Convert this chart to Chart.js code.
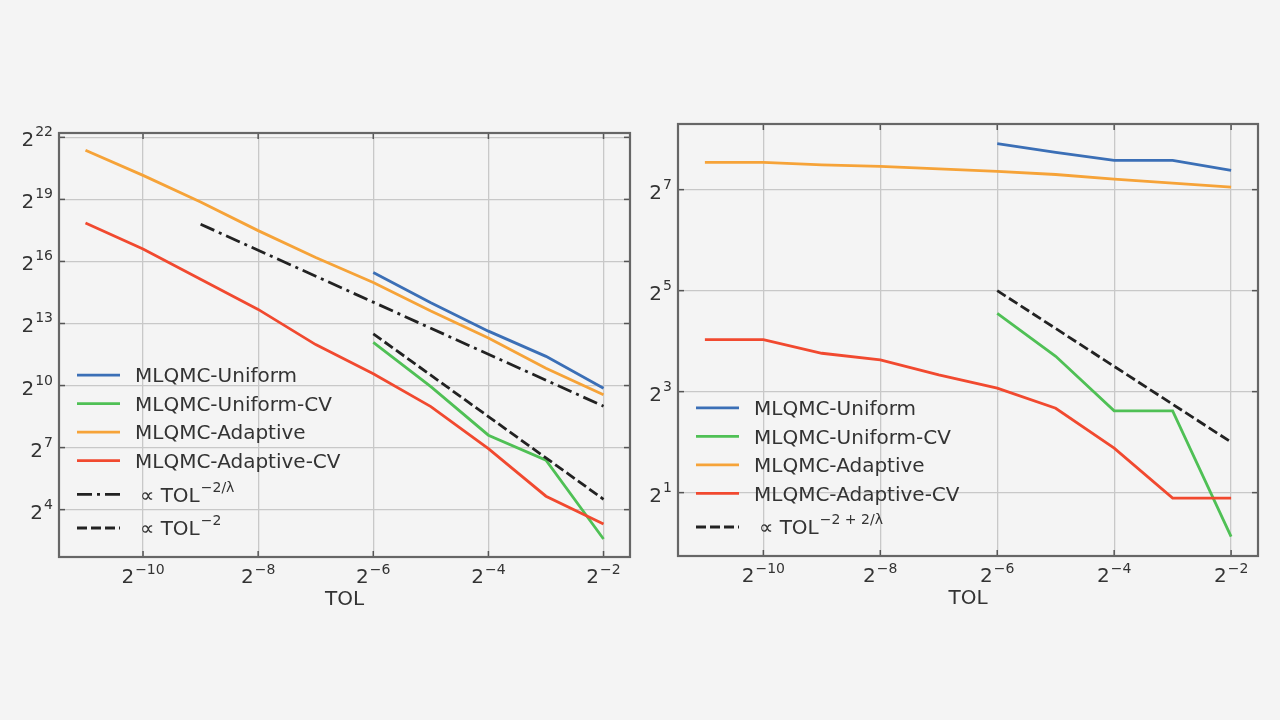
<!DOCTYPE html>
<html lang="en">
<head>
  <meta charset="UTF-8" />
  <title>MLQMC - cost vs TOL</title>
  <script src="https://cdn.jsdelivr.net/npm/chart.js"></script>
  <style>
    html, body { margin: 0; padding: 0; background: #f4f4f4; }
    body { width: 1280px; height: 720px; position: relative; overflow: hidden; }
    canvas { position: absolute; top: 100px; }
    #leftChart { left: 0; }
    #rightChart { left: 640px; }
  </style>
</head>
<body>
  <canvas id="leftChart" width="640" height="520"></canvas>
  <canvas id="rightChart" width="640" height="520"></canvas>

  <script>
    // all values are base-2 exponents
    const tolExp = [-11, -10, -9, -8, -7, -6, -5, -4, -3, -2];
    const tolExpUniform = [-6, -5, -4, -3, -2];
    const xTickExp = [-10, -8, -6, -4, -2];

    // left panel
    const leftYTickExp = [4, 7, 10, 13, 16, 19, 22];
    const leftUniform = [15.46, 14.0, 12.63, 11.41, 9.87];
    const leftUniformCV = [12.09, 9.95, 7.6, 6.39, 2.58];
    const leftAdaptive = [21.38, 20.16, 18.87, 17.49, 16.19, 14.98, 13.6, 12.3, 10.84, 9.55];
    const leftAdaptiveCV = [17.86, 16.6, 15.14, 13.68, 11.98, 10.57, 8.98, 6.95, 4.65, 3.31];
    const leftRefLambdaTol = [-9, -2];
    const leftRefLambda = [17.8, 9.0];
    const leftRef2Tol = [-6, -2];
    const leftRef2 = [12.5, 4.5];

    // right panel
    const rightYTickExp = [1, 3, 5, 7];
    const rightUniform = [7.91, 7.74, 7.58, 7.58, 7.38];
    const rightUniformCV = [4.55, 3.70, 2.62, 2.62, 0.13];
    const rightAdaptive = [7.54, 7.54, 7.49, 7.46, 7.41, 7.36, 7.30, 7.21, 7.13, 7.05];
    const rightAdaptiveCV = [4.03, 4.03, 3.76, 3.63, 3.33, 3.07, 2.67, 1.88, 0.89, 0.89];
    const rightRefTol = [-6, -2];
    const rightRef = [5.0, 2.0];

    const COLORS = {
      uniform: '#3b6fb6',
      uniformCV: '#4fc055',
      adaptive: '#f6a338',
      adaptiveCV: '#f1492f',
      ref: '#222222'
    };
    const DASHDOT = [15, 5, 3, 5];
    const DASHED = [10, 4];
    const FONT = '"DejaVu Sans", sans-serif';

    function pts(xe, ye) {
      return xe.map((e, i) => ({ x: 2 ** e, y: 2 ** ye[i] }));
    }

    function series(xe, ye, color, dash) {
      return {
        data: pts(xe, ye),
        borderColor: color,
        borderWidth: 2.8,
        borderDash: dash || [],
        pointRadius: 0,
        fill: false,
        tension: 0
      };
    }

    function seg(ctx, x0, y0, x1, y1) {
      ctx.beginPath();
      ctx.moveTo(x0, y0);
      ctx.lineTo(x1, y1);
      ctx.stroke();
    }

    // base text with a raised exponent
    function powText(ctx, x, y, base, sup, align, baseSize, supSize, raise) {
      ctx.font = baseSize + 'px ' + FONT;
      const wb = ctx.measureText(base).width;
      ctx.font = supSize + 'px ' + FONT;
      const ws = ctx.measureText(sup).width;
      const total = wb + 1 + ws;
      let x0 = x;
      if (align === 'center') x0 = x - total / 2;
      else if (align === 'right') x0 = x - total;
      ctx.textAlign = 'left';
      ctx.textBaseline = 'alphabetic';
      ctx.font = baseSize + 'px ' + FONT;
      ctx.fillText(base, x0, y);
      ctx.font = supSize + 'px ' + FONT;
      ctx.fillText(sup, x0 + wb + 1, y - raise);
    }

    function decor(yTicks, legendItems) {
      return {
        id: 'decor',
        afterDraw(chart) {
          const ctx = chart.ctx;
          const a = chart.chartArea;
          const xs = chart.scales.x;
          const ys = chart.scales.y;
          ctx.save();
          ctx.setLineDash([]);

          // inward tick marks on all four sides
          ctx.strokeStyle = '#555';
          ctx.lineWidth = 1.5;
          xTickExp.forEach(e => {
            const px = xs.getPixelForValue(2 ** e);
            seg(ctx, px, a.bottom, px, a.bottom - 6);
            seg(ctx, px, a.top, px, a.top + 6);
          });
          yTicks.forEach(e => {
            const py = ys.getPixelForValue(2 ** e);
            seg(ctx, a.left, py, a.left + 6, py);
            seg(ctx, a.right, py, a.right - 6, py);
          });

          // frame
          ctx.strokeStyle = '#666';
          ctx.lineWidth = 2.2;
          ctx.strokeRect(a.left, a.top, a.right - a.left, a.bottom - a.top);

          // tick labels
          ctx.fillStyle = '#333';
          xTickExp.forEach(e => {
            powText(ctx, xs.getPixelForValue(2 ** e), a.bottom + 26, '2', '\u2212' + (-e), 'center', 20, 14, 9);
          });
          yTicks.forEach(e => {
            powText(ctx, a.left - 6, ys.getPixelForValue(2 ** e) + 9, '2', String(e), 'right', 20, 14, 10);
          });

          // axis title
          ctx.font = '20px ' + FONT;
          ctx.textAlign = 'center';
          ctx.fillText('TOL', (a.left + a.right) / 2, a.bottom + 48);

          // legend, stacked up from the lower left corner
          let y = a.bottom - 29;
          const rowY = [];
          for (let i = legendItems.length - 1; i >= 0; i--) {
            rowY[i] = y;
            y -= legendItems[i].sup ? 33.7 : 28.5;
          }
          legendItems.forEach((it, i) => {
            const ly = rowY[i];
            ctx.strokeStyle = it.color;
            ctx.lineWidth = 2.8;
            ctx.setLineDash(it.dash || []);
            seg(ctx, a.left + 18, ly, a.left + 61, ly);
            ctx.setLineDash([]);
            ctx.fillStyle = '#333';
            if (it.sup) {
              powText(ctx, a.left + 81, ly + 7.3, it.label, it.sup, 'left', 20, 14, 10);
            } else {
              ctx.font = '20px ' + FONT;
              ctx.textAlign = 'left';
              ctx.textBaseline = 'alphabetic';
              ctx.fillText(it.label, a.left + 76, ly + 7.3);
            }
          });
          ctx.restore();
        }
      };
    }

    function makeChart(id, datasets, yMinExp, yMaxExp, yTicks, padding, legendItems) {
      datasets.forEach((d, i) => { d.order = -i; });
      new Chart(document.getElementById(id), {
        type: 'line',
        data: { datasets },
        options: {
          responsive: false,
          animation: false,
          layout: { padding },
          plugins: { legend: { display: false }, tooltip: { enabled: false } },
          scales: {
            x: {
              type: 'logarithmic',
              min: 2 ** -11.46,
              max: 2 ** -1.54,
              afterBuildTicks: s => { s.ticks = xTickExp.map(e => ({ value: 2 ** e })); },
              ticks: { display: false },
              grid: { color: '#c8c8c8', lineWidth: 1.3, drawTicks: false },
              border: { display: false }
            },
            y: {
              type: 'logarithmic',
              min: 2 ** yMinExp,
              max: 2 ** yMaxExp,
              afterBuildTicks: s => { s.ticks = yTicks.map(e => ({ value: 2 ** e })); },
              ticks: { display: false },
              grid: { color: '#c8c8c8', lineWidth: 1.3, drawTicks: false },
              border: { display: false }
            }
          }
        },
        plugins: [decor(yTicks, legendItems)]
      });
    }

    makeChart('leftChart', [
      series(tolExpUniform, leftUniform, COLORS.uniform),
      series(tolExpUniform, leftUniformCV, COLORS.uniformCV),
      series(tolExp, leftAdaptive, COLORS.adaptive),
      series(tolExp, leftAdaptiveCV, COLORS.adaptiveCV),
      series(leftRefLambdaTol, leftRefLambda, COLORS.ref, DASHDOT),
      series(leftRef2Tol, leftRef2, COLORS.ref, DASHED)
    ], 1.71, 22.21, leftYTickExp, { left: 59, top: 33, right: 10, bottom: 63 }, [
      { label: 'MLQMC-Uniform', color: COLORS.uniform },
      { label: 'MLQMC-Uniform-CV', color: COLORS.uniformCV },
      { label: 'MLQMC-Adaptive', color: COLORS.adaptive },
      { label: 'MLQMC-Adaptive-CV', color: COLORS.adaptiveCV },
      { label: '\u221d TOL', sup: '\u22122/\u03bb', color: COLORS.ref, dash: DASHDOT },
      { label: '\u221d TOL', sup: '\u22122', color: COLORS.ref, dash: DASHED }
    ]);

    makeChart('rightChart', [
      series(tolExpUniform, rightUniform, COLORS.uniform),
      series(tolExpUniform, rightUniformCV, COLORS.uniformCV),
      series(tolExp, rightAdaptive, COLORS.adaptive),
      series(tolExp, rightAdaptiveCV, COLORS.adaptiveCV),
      series(rightRefTol, rightRef, COLORS.ref, DASHED)
    ], -0.255, 8.30, rightYTickExp, { left: 38, top: 24, right: 22, bottom: 64 }, [
      { label: 'MLQMC-Uniform', color: COLORS.uniform },
      { label: 'MLQMC-Uniform-CV', color: COLORS.uniformCV },
      { label: 'MLQMC-Adaptive', color: COLORS.adaptive },
      { label: 'MLQMC-Adaptive-CV', color: COLORS.adaptiveCV },
      { label: '\u221d TOL', sup: '\u22122 + 2/\u03bb', color: COLORS.ref, dash: DASHED }
    ]);
  </script>
</body>
</html>
